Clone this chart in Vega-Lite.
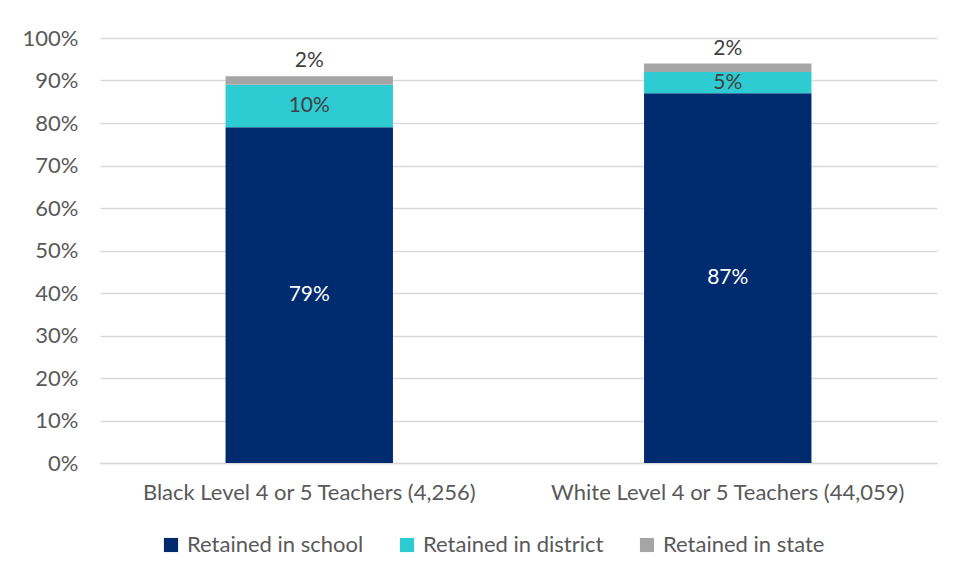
{
  "$schema": "https://vega.github.io/schema/vega-lite/v6.json",
  "autosize": {"type": "none"},
  "width": 837,
  "height": 425,
  "padding": {"left": 100, "top": 38, "right": 18, "bottom": 115},
  "background": "white",
  "config": {
    "font": "Lato",
    "view": {"stroke": null},
    "axis": {"labelFont": "Lato", "labelColor": "#595959", "labelFontSize": 22, "labelLimit": 0},
    "legend": {"labelFont": "Lato", "labelColor": "#595959", "labelFontSize": 22, "labelLimit": 0}
  },
  "data": {
    "values": [
      {"group": "Black Level 4 or 5 Teachers (4,256)", "category": "Retained in school", "k": 1, "value": 79},
      {"group": "Black Level 4 or 5 Teachers (4,256)", "category": "Retained in district", "k": 2, "value": 10},
      {"group": "Black Level 4 or 5 Teachers (4,256)", "category": "Retained in state", "k": 3, "value": 2},
      {"group": "White Level 4 or 5 Teachers (44,059)", "category": "Retained in school", "k": 1, "value": 87},
      {"group": "White Level 4 or 5 Teachers (44,059)", "category": "Retained in district", "k": 2, "value": 5},
      {"group": "White Level 4 or 5 Teachers (44,059)", "category": "Retained in state", "k": 3, "value": 2}
    ]
  },
  "encoding": {
    "x": {
      "field": "group", "type": "nominal", "title": null,
      "sort": null,
      "scale": {"paddingInner": 0.6, "paddingOuter": 0.3},
      "axis": {"labelAngle": 0, "ticks": false, "domainColor": "#d9d9d9", "domainWidth": 1.5, "labelPadding": 19, "grid": false}
    }
  },
  "layer": [
    {
      "mark": {"type": "bar"},
      "encoding": {
        "y": {
          "field": "value", "type": "quantitative", "stack": "zero", "title": null,
          "scale": {"domain": [0, 100], "nice": false},
          "axis": {"values": [0,10,20,30,40,50,60,70,80,90,100], "labelExpr": "datum.value + '%'", "domain": false, "ticks": false, "gridColor": "#d9d9d9", "gridWidth": 1.5, "labelPadding": 22}
        },
        "color": {
          "field": "category", "type": "nominal",
          "scale": {"domain": ["Retained in school", "Retained in district", "Retained in state"], "range": ["#002b6f", "#2ecbd2", "#a5a5a5"]},
          "legend": {"title": null, "orient": "none", "legendX": 60, "legendY": 496, "direction": "horizontal", "symbolType": "square", "symbolSize": 200, "symbolStrokeWidth": 0, "columnPadding": 32, "labelOffset": 5}
        },
        "order": {"field": "k", "type": "quantitative"}
      }
    },
    {
      "mark": {"type": "text", "fontSize": 21, "font": "Lato"},
      "encoding": {
        "y": {"field": "value", "type": "quantitative", "stack": "zero", "bandPosition": 0.5},
        "order": {"field": "k", "type": "quantitative"},
        "detail": {"field": "category"},
        "text": {"condition": {"test": "datum.category !== 'Retained in state'", "field": "label"}, "value": ""},
        "color": {"condition": {"test": "datum.category === 'Retained in school'", "value": "white"}, "value": "#404040"}
      },
      "transform": [{"calculate": "datum.value + '%'", "as": "label"}]
    },
    {
      "transform": [
        {"stack": "value", "groupby": ["group"], "sort": [{"field": "k"}], "as": ["v0", "v1"]},
        {"filter": "datum.category === 'Retained in state'"},
        {"calculate": "datum.value + '%'", "as": "label"}
      ],
      "mark": {"type": "text", "fontSize": 21, "font": "Lato", "color": "#404040", "dy": -15},
      "encoding": {
        "y": {"field": "v1", "type": "quantitative"},
        "text": {"field": "label", "type": "nominal"}
      }
    }
  ]
}
